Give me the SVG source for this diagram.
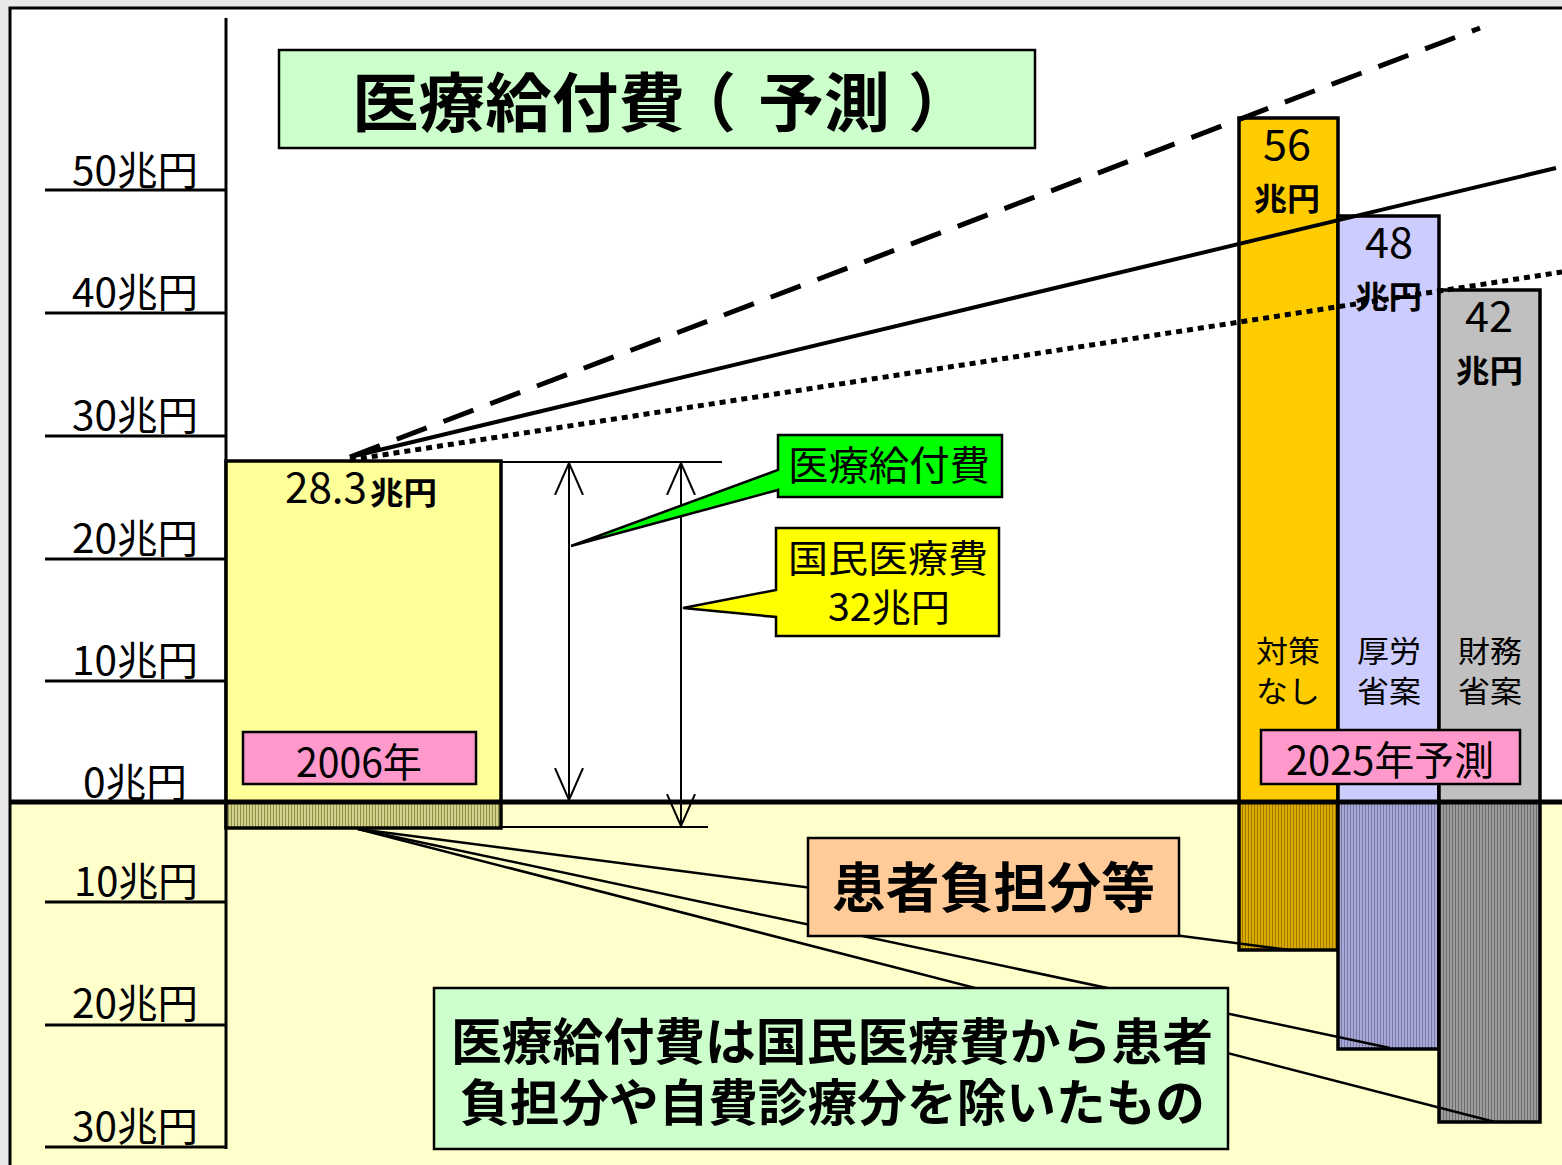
<svg xmlns="http://www.w3.org/2000/svg" width="1562" height="1165" viewBox="0 0 1562 1165">
<style>
.t{font-family:"Noto Sans CJK JP","Liberation Sans",sans-serif;fill:#000}
.ax{font-size:40px}
.b{font-weight:bold}
.box{stroke:#000;stroke-width:2.5}
.bar{stroke:#000;stroke-width:3.5}
.tick{stroke:#000;stroke-width:3}
.thin{stroke:#000;stroke-width:2;fill:none}
.lead{stroke:#000;stroke-width:2.5;fill:none}
</style>
<defs>
<pattern id="hOlive" width="3" height="10" patternUnits="userSpaceOnUse"><rect width="3" height="10" fill="#d2d28e"/><rect width="1" height="10" fill="#8f8f45"/></pattern>
<pattern id="hGold" width="3" height="10" patternUnits="userSpaceOnUse"><rect width="3" height="10" fill="#d9ab00"/><rect width="1" height="10" fill="#9e7a00"/></pattern>
<pattern id="hLav" width="3" height="10" patternUnits="userSpaceOnUse"><rect width="3" height="10" fill="#a8a8d6"/><rect width="1" height="10" fill="#7a7aa8"/></pattern>
<pattern id="hGrey" width="3" height="10" patternUnits="userSpaceOnUse"><rect width="3" height="10" fill="#9c9c9c"/><rect width="1" height="10" fill="#6e6e6e"/></pattern>
<marker id="vh" viewBox="0 0 34 30" refX="32" refY="15" markerWidth="34" markerHeight="30" markerUnits="userSpaceOnUse" orient="auto-start-reverse"><path d="M0,1 L32,15 L0,29" fill="none" stroke="#000" stroke-width="2"/></marker>
</defs>

<rect x="0" y="0" width="1562" height="1165" fill="#e8e8e8"/>
<rect x="10" y="8" width="1600" height="794" fill="#ffffff"/>
<rect x="10" y="802" width="1600" height="400" fill="#ffffcc"/>
<rect x="10" y="8" width="1600" height="1200" fill="none" stroke="#000" stroke-width="3"/>

<g id="axis">
<line x1="226" y1="18" x2="226" y2="1149" class="tick"/>
<line x1="45" y1="190" x2="226" y2="190" class="tick"/>
<line x1="45" y1="313" x2="226" y2="313" class="tick"/>
<line x1="45" y1="436" x2="226" y2="436" class="tick"/>
<line x1="45" y1="559" x2="226" y2="559" class="tick"/>
<line x1="45" y1="681" x2="226" y2="681" class="tick"/>
<line x1="45" y1="902" x2="226" y2="902" class="tick"/>
<line x1="45" y1="1025" x2="226" y2="1025" class="tick"/>
<line x1="45" y1="1147" x2="226" y2="1147" class="tick"/>
<text class="t ax" x="72" y="185" textLength="126" lengthAdjust="spacingAndGlyphs">50兆円</text>
<text class="t ax" x="72" y="307" textLength="126" lengthAdjust="spacingAndGlyphs">40兆円</text>
<text class="t ax" x="72" y="430" textLength="126" lengthAdjust="spacingAndGlyphs">30兆円</text>
<text class="t ax" x="72" y="553" textLength="126" lengthAdjust="spacingAndGlyphs">20兆円</text>
<text class="t ax" x="72" y="675" textLength="126" lengthAdjust="spacingAndGlyphs">10兆円</text>
<text class="t ax" x="83" y="797" textLength="104" lengthAdjust="spacingAndGlyphs">0兆円</text>
<text class="t ax" x="74" y="896" textLength="124" lengthAdjust="spacingAndGlyphs">10兆円</text>
<text class="t ax" x="72" y="1018" textLength="126" lengthAdjust="spacingAndGlyphs">20兆円</text>
<text class="t ax" x="72" y="1141" textLength="126" lengthAdjust="spacingAndGlyphs">30兆円</text>
</g>

<g id="title">
<rect x="279" y="50" width="756" height="98" fill="#ccffcc" class="box"/>
<text class="t b" x="352" y="126" font-size="64" textLength="333" lengthAdjust="spacingAndGlyphs">医療給付費</text>
<text class="t b" x="672" y="126" font-size="64">（</text>
<text class="t b" x="758" y="126" font-size="64" textLength="132" lengthAdjust="spacingAndGlyphs">予測</text>
<text class="t b" x="908" y="126" font-size="64">）</text>
</g>

<g id="bar2006">
<rect x="226" y="461" width="275" height="341" fill="#ffff99" class="bar"/>
<rect x="226" y="802" width="275" height="26" fill="url(#hOlive)" class="bar"/>
<text class="t" x="285" y="503" font-size="42" textLength="82" lengthAdjust="spacingAndGlyphs">28.3</text>
<text class="t b" x="370" y="504" font-size="31" textLength="67" lengthAdjust="spacingAndGlyphs">兆円</text>
<rect x="243" y="732" width="233" height="52" fill="#ff99cc" class="box"/>
<text class="t ax" x="296" y="777" textLength="126" lengthAdjust="spacingAndGlyphs">2006年</text>
</g>

<g id="bar-nashi">
<rect x="1239" y="118" width="99" height="684" fill="#ffcc00" class="bar"/>
<rect x="1239" y="802" width="99" height="148" fill="url(#hGold)" class="bar"/>
<text class="t" x="1263" y="160" font-size="42" textLength="48" lengthAdjust="spacingAndGlyphs">56</text>
<text class="t b" x="1254" y="210" font-size="31" textLength="66" lengthAdjust="spacingAndGlyphs">兆円</text>
<text class="t" x="1256" y="662" font-size="30" textLength="64" lengthAdjust="spacingAndGlyphs">対策</text>
<text class="t" x="1256" y="702" font-size="30" textLength="64" lengthAdjust="spacingAndGlyphs">なし</text>
</g>

<g id="bar-kourou">
<rect x="1338" y="216" width="101" height="586" fill="#ccccff" class="bar"/>
<rect x="1338" y="802" width="101" height="247" fill="url(#hLav)" class="bar"/>
<text class="t" x="1365" y="258" font-size="42" textLength="48" lengthAdjust="spacingAndGlyphs">48</text>
<text class="t b" x="1355" y="308" font-size="31" textLength="67" lengthAdjust="spacingAndGlyphs">兆円</text>
<text class="t" x="1357" y="662" font-size="30" textLength="64" lengthAdjust="spacingAndGlyphs">厚労</text>
<text class="t" x="1357" y="702" font-size="30" textLength="64" lengthAdjust="spacingAndGlyphs">省案</text>
</g>

<g id="bar-zaimu">
<rect x="1439" y="290" width="101" height="512" fill="#c0c0c0" class="bar"/>
<rect x="1439" y="802" width="101" height="320" fill="url(#hGrey)" class="bar"/>
<text class="t" x="1465" y="332" font-size="42" textLength="48" lengthAdjust="spacingAndGlyphs">42</text>
<text class="t b" x="1456" y="382" font-size="31" textLength="67" lengthAdjust="spacingAndGlyphs">兆円</text>
<text class="t" x="1458" y="662" font-size="30" textLength="64" lengthAdjust="spacingAndGlyphs">財務</text>
<text class="t" x="1458" y="702" font-size="30" textLength="64" lengthAdjust="spacingAndGlyphs">省案</text>
</g>

<g id="label2025">
<rect x="1261" y="730" width="259" height="54" fill="#ff99cc" class="box"/>
<text class="t ax" x="1286" y="775" textLength="208" lengthAdjust="spacingAndGlyphs">2025年予測</text>
</g>

<line x1="10" y1="802" x2="1562" y2="802" stroke="#000" stroke-width="5"/>

<g id="connectors">
<line x1="350" y1="457" x2="1480" y2="28" stroke="#000" stroke-width="5" stroke-dasharray="32,18"/>
<line x1="350" y1="457" x2="1556" y2="168" stroke="#000" stroke-width="4"/>
<line x1="350" y1="460" x2="1562" y2="272" stroke="#000" stroke-width="5" stroke-dasharray="6,5"/>
<line x1="501" y1="462" x2="722" y2="462" class="thin"/>
<line x1="501" y1="827" x2="708" y2="827" class="thin"/>
<line x1="569" y1="463" x2="569" y2="800" class="thin" marker-start="url(#vh)" marker-end="url(#vh)"/>
<line x1="681" y1="463" x2="681" y2="826" class="thin" marker-start="url(#vh)" marker-end="url(#vh)"/>
<line x1="358" y1="829" x2="1290" y2="950" class="lead"/>
<line x1="358" y1="829" x2="1390" y2="1048" class="lead"/>
<line x1="358" y1="829" x2="1495" y2="1122" class="lead"/>
</g>

<g id="callout-kyufu">
<path d="M778,435 H1002 V497 H778 V490 L571,546 L778,470 Z" fill="#00ff00" class="box"/>
<text class="t" x="788" y="480" font-size="40" textLength="202" lengthAdjust="spacingAndGlyphs">医療給付費</text>
</g>

<g id="callout-kokumin">
<path d="M776,528 H999 V636 H776 V617 L683,608 L776,590 Z" fill="#ffff00" class="box"/>
<text class="t" x="788" y="572" font-size="38" textLength="200" lengthAdjust="spacingAndGlyphs">国民医療費</text>
<text class="t" x="828" y="621" font-size="38" textLength="122" lengthAdjust="spacingAndGlyphs">32兆円</text>
</g>

<g id="box-kanja">
<rect x="808" y="838" width="371" height="98" fill="#ffcc99" class="box"/>
<text class="t b" x="832" y="908" font-size="54" textLength="323" lengthAdjust="spacingAndGlyphs">患者負担分等</text>
</g>

<g id="box-note">
<rect x="434" y="988" width="794" height="161" fill="#ccffcc" class="box"/>
<text class="t b" x="451" y="1060" font-size="50" textLength="762" lengthAdjust="spacingAndGlyphs">医療給付費は国民医療費から患者</text>
<text class="t b" x="460" y="1121" font-size="50" textLength="745" lengthAdjust="spacingAndGlyphs">負担分や自費診療分を除いたもの</text>
</g>
</svg>
